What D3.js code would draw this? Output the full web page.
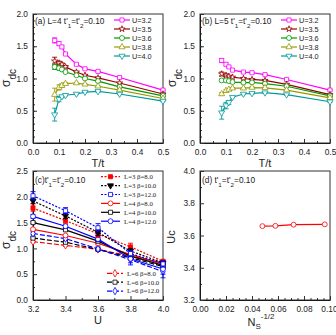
<!DOCTYPE html>
<html>
<head>
<meta charset="utf-8">
<script src="https://cdn.jsdelivr.net/npm/d3@7"></script>
<style>
  body { margin: 0; background: #fff; }
  svg { display: block; font-family: Arial, "Liberation Sans", sans-serif; }
</style>
</head>
<body>
<svg id="fig" width="336" height="335"></svg>
<script>
// 1: DATA
// panels (a) and (b): sigma_dc vs T/t
const tT = [0.0833, 0.1, 0.111, 0.125, 0.167, 0.2, 0.25, 0.333, 0.5];
const uNames = ["U=3.2", "U=3.5", "U=3.6", "U=3.8", "U=4.0"];
const uColors = ["#ff00ff", "#990000", "#009900", "#999900", "#009999"];
const uMarks = ["square", "star", "circle", "triangle", "tridown"];

const sigA32 = [1.59, 1.54, 1.49, 1.38, 1.22, 1.15, 1.11, 1.015, 0.82];
const sigA35 = [1.27, 1.24, 1.22, 1.18, 1.10, 1.05, 1.01, 0.93, 0.76];
const sigA36 = [1.18, 1.16, 1.14, 1.10, 1.05, 1.00, 0.96, 0.87, 0.73];
const sigA38 = [0.75, 0.86, 0.89, 0.92, 0.93, 0.91, 0.88, 0.82, 0.69];
const sigA40 = [0.44, 0.68, 0.72, 0.74, 0.76, 0.79, 0.80, 0.76, 0.65];
const errA32 = [0.04, 0.03, 0.02, 0.01, 0.01, 0.01, 0.01, 0.01, 0.01];
const errA35 = [0.06, 0.03, 0.02, 0.02, 0.01, 0.01, 0.01, 0.01, 0.01];
const errA36 = [0.04, 0.03, 0.02, 0.01, 0.01, 0.01, 0.01, 0.01, 0.01];
const errA38 = [0.10, 0.04, 0.03, 0.02, 0.01, 0.01, 0.01, 0.01, 0.01];
const errA40 = [0.10, 0.04, 0.02, 0.01, 0.01, 0.01, 0.01, 0.01, 0.01];

const sigB32 = [1.28, 1.22, 1.18, 1.13, 1.10, 1.09, 1.06, 0.985, 0.82];
const sigB35 = [1.07, 1.05, 1.035, 1.02, 1.00, 0.985, 0.97, 0.91, 0.75];
const sigB36 = [0.97, 0.97, 0.96, 0.945, 0.935, 0.94, 0.92, 0.88, 0.73];
const sigB38 = [0.76, 0.81, 0.83, 0.85, 0.85, 0.86, 0.855, 0.82, 0.70];
const sigB40 = [0.47, 0.58, 0.63, 0.71, 0.76, 0.77, 0.78, 0.75, 0.64];
const errB32 = [0.03, 0.02, 0.01, 0.01, 0.01, 0.01, 0.01, 0.01, 0.01];
const errB35 = [0.03, 0.02, 0.01, 0.01, 0.01, 0.01, 0.01, 0.01, 0.01];
const errB36 = [0.02, 0.01, 0.01, 0.01, 0.01, 0.01, 0.01, 0.01, 0.01];
const errB38 = [0.02, 0.02, 0.01, 0.01, 0.01, 0.01, 0.01, 0.01, 0.01];
const errB40 = [0.10, 0.05, 0.03, 0.01, 0.01, 0.01, 0.01, 0.01, 0.01];

// panel (c): sigma_dc vs U
const uGrid = [3.2, 3.4, 3.6, 3.8, 4.0];
const cNames = ["L=3 β=8.0", "L=3 β=10.0", "L=3 β=12.0", "L=4 β=8.0", "L=4 β=10.0", "L=4 β=12.0",
                "L=6 β=8.0", "L=6 β=10.0", "L=6 β=12.0"];
const cColors = ["#ff0000", "#000000", "#0000ff", "#ff0000", "#000000", "#0000ff", "#ff0000", "#000000", "#0000ff"];
const cDash = ["2,1.5", "2,1.5", "2,1.5", null, null, null, "5,2", "5,2", "5,2"];
const cMarks = ["square", "tridown", "square", "circle", "square", "circle", "diamond", "square", "diamond"];
const cFilled = [true, true, false, false, false, false, false, false, false];

const sigC = [
  [1.78, 1.54, 1.28, 1.03, 0.75],
  [1.92, 1.63, 1.31, 0.95, 0.72],
  [2.02, 1.73, 1.40, 0.90, 0.70],
  [1.37, 1.25, 1.10, 0.88, 0.70],
  [1.50, 1.36, 1.14, 0.85, 0.67],
  [1.62, 1.43, 1.18, 0.80, 0.60],
  [1.13, 1.06, 0.98, 0.85, 0.72],
  [1.20, 1.12, 0.98, 0.82, 0.65],
  [1.29, 1.19, 0.99, 0.78, 0.55]
];
const errC = [
  [0.06, 0.05, 0.07, 0.07, 0.03],
  [0.05, 0.05, 0.06, 0.05, 0.03],
  [0.08, 0.06, 0.08, 0.06, 0.06],
  [0.02, 0.02, 0.03, 0.03, 0.03],
  [0.02, 0.02, 0.03, 0.04, 0.04],
  [0.04, 0.04, 0.05, 0.08, 0.10],
  [0.02, 0.02, 0.02, 0.03, 0.03],
  [0.02, 0.02, 0.02, 0.04, 0.05],
  [0.03, 0.03, 0.04, 0.10, 0.12]
];

// panel (d): Uc vs Ns^-1/2
const nsX = [0.048, 0.058, 0.072, 0.096];
const ucY = [3.658, 3.660, 3.667, 3.669];

// 2: HELPERS
const svg = d3.select("#fig");
const W = 130, H = 129;

const symTypes = {
  square: d3.symbolSquare, circle: d3.symbolCircle, triangle: d3.symbolTriangle,
  tridown: d3.symbolTriangle, star: d3.symbolStar, diamond: d3.symbolDiamond
};
const symSize = { square: 17, circle: 19, triangle: 16, tridown: 16, star: 12, diamond: 16 };

function drawMarker(g, type, cx, cy, color, filled) {
  g.append("path")
    .attr("d", d3.symbol(symTypes[type], symSize[type])())
    .attr("transform", `translate(${cx},${cy})` + (type === "tridown" ? " rotate(180)" : ""))
    .attr("fill", filled ? color : "#fff")
    .attr("stroke", color)
    .attr("stroke-width", 0.8);
}

function makePanel(left, top, xDom, yDom, xTicks, yTicks, xMinor, yMinor, xFmt, yFmt) {
  const g = svg.append("g").attr("transform", `translate(${left},${top})`);
  const x = d3.scaleLinear().domain(xDom).range([0, W]);
  const y = d3.scaleLinear().domain(yDom).range([H, 0]);

  g.append("g").attr("transform", `translate(0,${H})`)
    .call(d3.axisBottom(x).tickValues(xMinor).tickSize(-2).tickFormat(""))
    .call(a => a.select(".domain").remove());
  g.append("g")
    .call(d3.axisLeft(y).tickValues(yMinor).tickSize(-2).tickFormat(""))
    .call(a => a.select(".domain").remove());

  const xAx = g.append("g").attr("transform", `translate(0,${H})`)
    .call(d3.axisBottom(x).tickValues(xTicks).tickSize(-4).tickSizeOuter(0).tickPadding(6).tickFormat(d3.format(xFmt)));
  g.append("g")
    .call(d3.axisLeft(y).tickValues(yTicks).tickSize(-4).tickSizeOuter(0).tickPadding(5).tickFormat(d3.format(yFmt)));

  g.selectAll(".tick line").attr("stroke", "#333");
  g.selectAll(".tick text").attr("font-size", 8.3).attr("fill", "#222")
    .attr("font-family", "Arial, 'Liberation Sans', sans-serif");

  g.append("rect").attr("width", W).attr("height", H)
    .attr("fill", "none").attr("stroke", "#333").attr("stroke-width", 1);
  return { g, x, y, xAx };
}

function errorBars(g, xs, ys, es, x, y, color) {
  xs.forEach((xv, i) => {
    const px = x(xv), y1 = y(ys[i] - es[i]), y2 = y(ys[i] + es[i]);
    g.append("line").attr("x1", px).attr("x2", px).attr("y1", y1).attr("y2", y2)
      .attr("stroke", color).attr("stroke-width", 0.9);
    [y1, y2].forEach(py => g.append("line").attr("x1", px - 2.5).attr("x2", px + 2.5)
      .attr("y1", py).attr("y2", py).attr("stroke", color).attr("stroke-width", 0.9));
  });
}

function series(g, xs, ys, es, x, y, color, mark, filled, dash, width) {
  const line = d3.line().x((d, i) => x(xs[i])).y(d => y(d));
  g.append("path").datum(ys)
    .attr("fill", "none").attr("stroke", color).attr("stroke-width", width || 1.2)
    .attr("stroke-dasharray", dash).attr("d", line);
  if (es) errorBars(g, xs, ys, es, x, y, color);
  ys.forEach((v, i) => drawMarker(g, mark, x(xs[i]), y(v), color, filled));
}

function tprime(t, parts, size) {
  parts.forEach(p => {
    const ts = t.append("tspan").text(p.s);
    if (p.sub) ts.attr("baseline-shift", "sub").attr("font-size", size * 0.75);
  });
}

function sigmaLabel(cx, cy) {
  const t = svg.append("text")
    .attr("transform", `translate(${cx},${cy}) rotate(-90)`)
    .attr("text-anchor", "middle").attr("font-size", 12).attr("fill", "#222");
  t.append("tspan").text("σ");
  t.append("tspan").text("dc").attr("baseline-shift", "sub").attr("font-size", 10);
}

// 3: PANELS (a) and (b)
const abTicksX = [0, 0.1, 0.2, 0.3, 0.4, 0.5];
const abTicksY = [0, 0.5, 1.0, 1.5, 2.0];
const abMinorX = d3.range(0.05, 0.5, 0.1);
const abMinorY = d3.range(0.1, 2.0, 0.1);

function tPanel(left, label, sigs, errs) {
  const p = makePanel(left, 14, [0, 0.5], [0, 2], abTicksX, abTicksY, abMinorX, abMinorY, ".1f", ".1f");
  sigs.forEach((s, k) => series(p.g, tT, s, errs[k], p.x, p.y, uColors[k], uMarks[k], false, null, 1.2));

  const t = p.g.append("text").attr("x", 2).attr("y", 10).attr("font-size", 8.3).attr("fill", "#222");
  tprime(t, [{ s: label + " t'" }, { s: "1", sub: true }, { s: "=t'" }, { s: "2", sub: true }, { s: "=0.10" }], 8.3);

  uNames.forEach((n, k) => {
    const ly = 6 + k * 9;
    p.g.append("line").attr("x1", 81).attr("x2", 97).attr("y1", ly).attr("y2", ly)
      .attr("stroke", uColors[k]).attr("stroke-width", 1.2);
    drawMarker(p.g, uMarks[k], 89, ly, uColors[k], false);
    p.g.append("text").attr("x", 99).attr("y", ly + 2.6).attr("font-size", 7.3)
      .attr("fill", "#222").text(n);
  });

  p.g.append("text").attr("x", W / 2).attr("y", H + 24).attr("text-anchor", "middle")
    .attr("font-size", 11).attr("fill", "#222").text("T/t");
  return p;
}

tPanel(33, "(a) L=4", [sigA32, sigA35, sigA36, sigA38, sigA40], [errA32, errA35, errA36, errA38, errA40]);
tPanel(200, "(b) L=5", [sigB32, sigB35, sigB36, sigB38, sigB40], [errB32, errB35, errB36, errB38, errB40]);
sigmaLabel(10, 78);
sigmaLabel(176, 78);

// 4: PANEL (c)
const pc = makePanel(33, 171, [3.2, 4.0], [0, 2.5], uGrid, [0, 0.5, 1.0, 1.5, 2.0, 2.5],
  d3.range(3.3, 4.0, 0.2), d3.range(0.25, 2.5, 0.5), ".1f", ".1f");
[6, 7, 8, 3, 4, 5, 0, 1, 2].forEach(k =>
  series(pc.g, uGrid, sigC[k], errC[k], pc.x, pc.y, cColors[k], cMarks[k], cFilled[k], cDash[k], 1.2));

{
  const t = pc.g.append("text").attr("x", 2).attr("y", 12).attr("font-size", 8.3).attr("fill", "#222");
  tprime(t, [{ s: "(c)t'" }, { s: "1", sub: true }, { s: "=t'" }, { s: "2", sub: true }, { s: "=0.10" }], 8.3);
}

cNames.forEach((n, k) => {
  const top = k < 6;
  const ly = top ? 5.7 + k * 8.9 : 102.3 + (k - 6) * 8.9;
  const x1 = top ? 68 : 74, x2 = top ? 87 : 90, tx = top ? 91 : 94;
  pc.g.append("line").attr("x1", x1).attr("x2", x2).attr("y1", ly).attr("y2", ly)
    .attr("stroke", cColors[k]).attr("stroke-width", 1.2).attr("stroke-dasharray", cDash[k]);
  drawMarker(pc.g, cMarks[k], (x1 + x2) / 2, ly, cColors[k], cFilled[k]);
  pc.g.append("text").attr("x", tx).attr("y", ly + 2.3).attr("font-size", 6.8)
    .attr("font-family", "'Liberation Serif', 'Times New Roman', serif")
    .attr("fill", "#222").text(n);
});

pc.g.append("text").attr("x", W / 2).attr("y", H + 24).attr("text-anchor", "middle")
  .attr("font-size", 11).attr("fill", "#222").text("U");
sigmaLabel(10, 240);

// 5: PANEL (d)
const pd = makePanel(200, 171, [0, 0.1], [3.2, 4.0], [0, 0.02, 0.04, 0.06, 0.08, 0.1],
  [3.2, 3.4, 3.6, 3.8, 4.0], d3.range(0.005, 0.1, 0.005), d3.range(3.3, 4.0, 0.2), ".2f", ".1f");
// keep the last tick label inside the window
pd.xAx.selectAll(".tick:last-of-type text").attr("text-anchor", "end").attr("x", 7);
series(pd.g, nsX, ucY, null, pd.x, pd.y, "#ff0000", "circle", false, null, 1.2);

{
  const t = pd.g.append("text").attr("x", 2).attr("y", 12).attr("font-size", 8.3).attr("fill", "#222");
  tprime(t, [{ s: "(d) t'" }, { s: "1", sub: true }, { s: "=t'" }, { s: "2", sub: true }, { s: "=0.10" }], 8.3);
}

{
  const t = pd.g.append("text").attr("x", W / 2 - 4).attr("y", H + 26).attr("text-anchor", "middle")
    .attr("font-size", 11).attr("fill", "#222");
  t.append("tspan").text("N");
  t.append("tspan").text("S").attr("font-size", 8).attr("dy", 3);
  t.append("tspan").text("-1/2").attr("font-size", 8).attr("dy", -10);
}
svg.append("text").attr("transform", "translate(175,237) rotate(-90)")
  .attr("text-anchor", "middle").attr("font-size", 11).attr("fill", "#222").text("Uc");
</script>
</body>
</html>
